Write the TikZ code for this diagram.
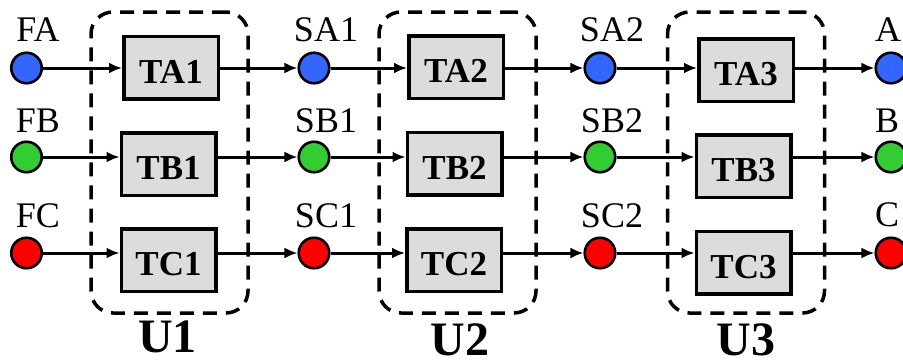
\documentclass[tikz,border=0pt]{standalone}
\usepackage{fontspec}
\setmainfont{Liberation Serif}
\newfontfamily\diagramfont{Liberation Serif}
\usetikzlibrary{arrows.meta}
\definecolor{portblue}{HTML}{3366FF}
\definecolor{portgreen}{HTML}{33CC33}
\definecolor{portred}{HTML}{FF0000}
\definecolor{boxgray}{HTML}{DCDCDC}
\begin{document}
\begin{tikzpicture}[x=1pt,y=-1pt,
  port/.style={circle, draw, line width=2.6pt, minimum size=30.5pt, inner sep=0pt},
  tbox/.style={draw, line width=3.5pt, fill=boxgray, minimum width=94.5pt,
    minimum height=62.5pt, inner sep=0pt, text height=31pt, text depth=0pt,
    font=\diagramfont\fontsize{35}{40}\selectfont\bfseries},
  portlabel/.style={anchor=base, inner sep=0pt, font=\diagramfont\fontsize{36}{40}\selectfont},
  unit/.style={draw, dash pattern=on 14pt off 9pt, line width=3.5pt,
    rounded corners=22pt, minimum width=157pt, minimum height=301pt, inner sep=0pt},
  unitlabel/.style={anchor=base, inner sep=0pt, text depth=0pt,
    font=\diagramfont\fontsize{48}{52}\selectfont\bfseries},
  flow/.style={line width=3pt, -{Latex[length=13pt,width=11pt]}},
]
\useasboundingbox (0,0) rectangle (903,360);

% stage groups
\node[unit] (u1) at (169.5,162.5) {};
\node[unit] (u2) at (457.5,162.5) {};
\node[unit] (u3) at (746,162.5) {};
\node[unitlabel] (u1l) at (167.5,352) {U1};
\node[unitlabel] (u2l) at (460,355) {U2};
\node[unitlabel] (u3l) at (746,355) {U3};

% ports
\node[port, fill=portblue]  (fa)  at (26.5,68)  {};
\node[port, fill=portgreen] (fb)  at (26.5,157) {};
\node[port, fill=portred]   (fc)  at (26.5,253) {};
\node[port, fill=portblue]  (sa1) at (314,68)   {};
\node[port, fill=portgreen] (sb1) at (314,157)  {};
\node[port, fill=portred]   (sc1) at (314,253)  {};
\node[port, fill=portblue]  (sa2) at (600,68)   {};
\node[port, fill=portgreen] (sb2) at (600,157)  {};
\node[port, fill=portred]   (sc2) at (600,253)  {};
\node[port, fill=portblue]  (a)   at (891,68)   {};
\node[port, fill=portgreen] (b)   at (891,157)  {};
\node[port, fill=portred]   (c)   at (891,253)  {};

% port labels
\node[portlabel] (fal)  at (38,41)   {FA};
\node[portlabel] (fbl)  at (38,132)  {FB};
\node[portlabel] (fcl)  at (38,227)  {FC};
\node[portlabel] (sa1l) at (326,41)  {SA1};
\node[portlabel] (sb1l) at (326,132) {SB1};
\node[portlabel] (sc1l) at (326,227) {SC1};
\node[portlabel] (sa2l) at (612,41)  {SA2};
\node[portlabel] (sb2l) at (612,132) {SB2};
\node[portlabel] (sc2l) at (612,227) {SC2};
\node[portlabel] (al)   at (888,41)  {A};
\node[portlabel] (bl)   at (887,132) {B};
\node[portlabel] (cl)   at (887,226) {C};

% tasks
\node[tbox] (ta1) at (171,67.5)  {TA1};
\node[tbox] (tb1) at (168.5,164) {TB1};
\node[tbox] (tc1) at (168.5,260) {TC1};
\node[tbox] (ta2) at (456,67)    {TA2};
\node[tbox] (tb2) at (454.5,163.5) {TB2};
\node[tbox] (tc2) at (454,260)   {TC2};
\node[tbox] (ta3) at (746,70)    {TA3};
\node[tbox] (tb3) at (743.5,166) {TB3};
\node[tbox] (tc3) at (743.5,262.5) {TC3};

% flows
\draw[flow] (fa) -- (fa -| ta1.west);
\draw[flow] (fb) -- (fb -| tb1.west);
\draw[flow] (fc) -- (fc -| tc1.west);
\draw[flow] (sa1 -| ta1.east) -- (sa1);
\draw[flow] (sb1 -| tb1.east) -- (sb1);
\draw[flow] (sc1 -| tc1.east) -- (sc1);
\draw[flow] (sa1) -- (sa1 -| ta2.west);
\draw[flow] (sb1) -- (sb1 -| tb2.west);
\draw[flow] (sc1) -- (sc1 -| tc2.west);
\draw[flow] (sa2 -| ta2.east) -- (sa2);
\draw[flow] (sb2 -| tb2.east) -- (sb2);
\draw[flow] (sc2 -| tc2.east) -- (sc2);
\draw[flow] (sa2) -- (sa2 -| ta3.west);
\draw[flow] (sb2) -- (sb2 -| tb3.west);
\draw[flow] (sc2) -- (sc2 -| tc3.west);
\draw[flow] (a -| ta3.east) -- (a);
\draw[flow] (b -| tb3.east) -- (b);
\draw[flow] (c -| tc3.east) -- (c);
\end{tikzpicture}
\end{document}
